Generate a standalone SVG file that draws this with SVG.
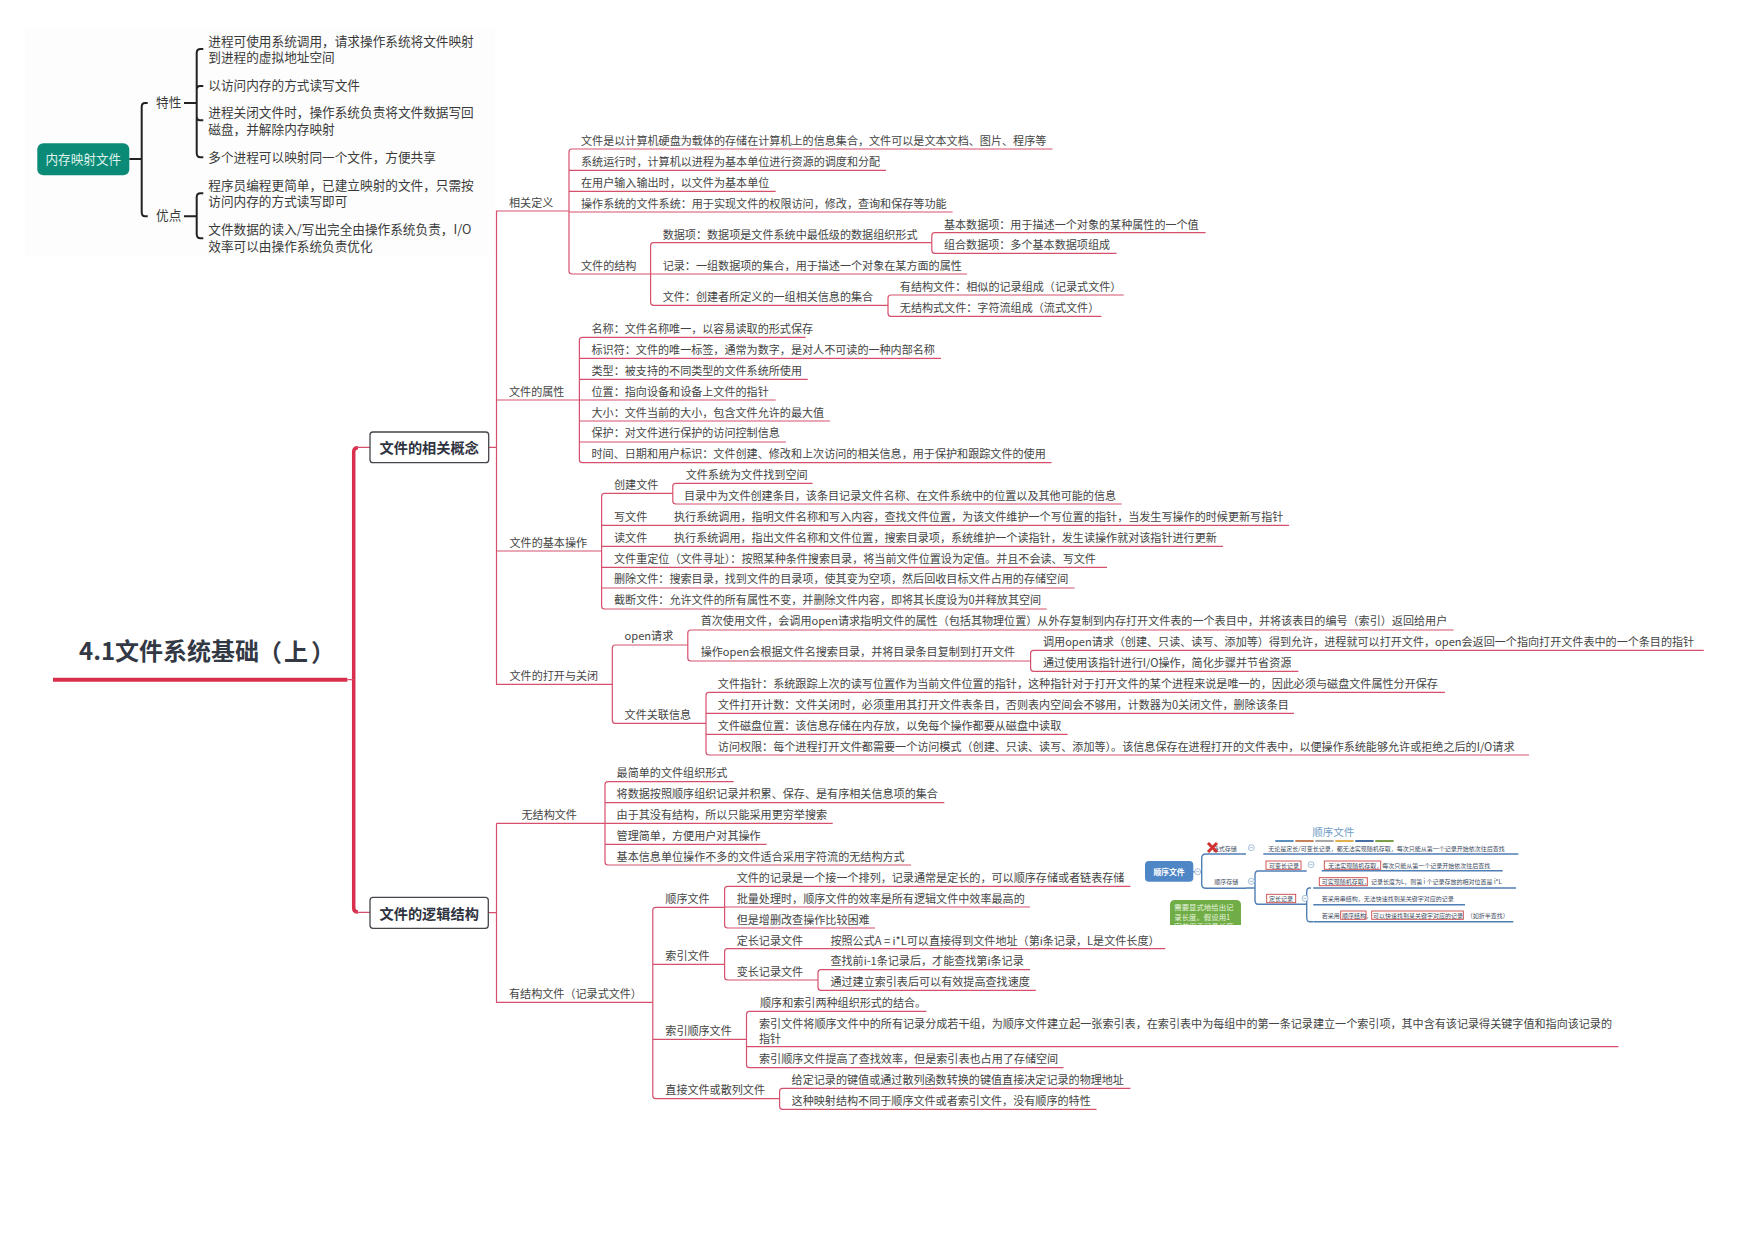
<svg xmlns="http://www.w3.org/2000/svg" width="1755" height="1240" viewBox="0 0 1755 1240">
<style>
text{font-family:"Noto Sans CJK SC","Liberation Sans",sans-serif;dominant-baseline:central;fill:#444}
.t{font-size:11.09px}
.m{font-size:12.65px;fill:#3a3a3a}
.b{font-size:14.2px;font-weight:700;fill:#2f3340}
.s{font-size:6px;fill:#3d4a5e}
.c{fill:none;stroke:#d5506c;stroke-width:1.2}
.k{fill:none;stroke:#222;stroke-width:2}
.u{fill:none;stroke:#4f7fb5;stroke-width:1.4}
.r{fill:none;stroke:#c44;stroke-width:.9}
.o{fill:#fff;stroke:#8fb0cf;stroke-width:.8}
.box{fill:#fff;stroke:#44464c;stroke-width:1.3}
</style>
<defs><clipPath id="noteclip"><rect x="1170" y="900" width="71" height="25"/></clipPath></defs>
<rect width="1755" height="1240" fill="#fff"/>
<rect x="25" y="28" width="470" height="228" fill="#fdfdfd"/>

<g id="connectors">
<path d="M129.3 159H141.7M147.7 103H145Q141.7 103 141.7 107V212Q141.7 216.3 145 216.3H147.7M184 103H196.7M184 216.3H196.7" class="k"/>
<path d="M203.3 49H200.5Q196.7 49 196.7 53V153Q196.7 157.3 200.5 157.3H203.3M203.3 86H200Q196.7 86 196.7 90M196.7 116Q196.7 120.3 200 120.3H203.3M203.3 193.3H200.5Q196.7 193.3 196.7 197V234Q196.7 238.3 200.5 238.3H203.3" class="k"/>
<path d="M53 679.7H347.3" style="fill:none;stroke:#d8304c;stroke-width:4"/>
<path d="M358 447.8Q353.7 447.8 353.7 452V908Q353.7 912 358 912" style="fill:none;stroke:#d8304c;stroke-width:3.5"/>
<path d="M347.3 679.7H353.7M356 447.3H370M356 912.3H370M488.7 447.3H496.5M488.3 912.7H496.5" class="c"/>
<path d="M568.7 211H496.5V684.3H612.3M496.5 400H579.4M496.5 551H601.6" class="c"/>
<path d="M496.5 823.3H605M652.8 1002.3H496.5V823.3" class="c"/>
<path d="M1052.5 149H572Q569 149 569 152V271Q569 274 572 274H650.6M569 170.3H886M569 191.3H775.7M569 212H952.6" class="c"/>
<path d="M931.8 242.7H653.6Q650.6 242.7 650.6 245.7V302.3Q650.6 305.3 653.6 305.3H888M650.6 274H967" class="c"/>
<path d="M1205.6 232.7H934.8Q931.8 232.7 931.8 235.7V250.3Q931.8 253.3 934.8 253.3H1116.5" class="c"/>
<path d="M1123.7 295H891Q888 295 888 298V313.3Q888 316.3 891 316.3H1101.4" class="c"/>
<path d="M805.7 337.3H582.4Q579.4 337.3 579.4 340.3V459.7Q579.4 462.7 582.4 462.7H1051.5M579.4 358.3H941M579.4 379.3H807.7M579.4 400H775.7M579.4 421H830M579.4 442H785.9" class="c"/>
<path d="M672.8 493.3H604.6Q601.6 493.3 601.6 496.3V606Q601.6 609 604.6 609H1046.7M601.6 525.3H1289M601.6 546.3H1223M601.6 567.3H1107M601.6 588H1074.5" class="c"/>
<path d="M812.6 483.3H675.8Q672.8 483.3 672.8 486.3V501Q672.8 504 675.8 504H1121.7" class="c"/>
<path d="M687.8 645H615.3Q612.3 645 612.3 648V720.3Q612.3 723.3 615.3 723.3H706" class="c"/>
<path d="M1453.6 630H690.8Q687.8 630 687.8 633V658Q687.8 661 690.8 661H1030.6" class="c"/>
<path d="M1703.8 650.3H1033.6Q1030.6 650.3 1030.6 653.3V668.3Q1030.6 671.3 1033.6 671.3H1298.4" class="c"/>
<path d="M1445 692.3H709Q706 692.3 706 695.3V752Q706 755 709 755H1529M706 713.3H1294M706 734.3H1067.6" class="c"/>
<path d="M733.6 781.7H608Q605 781.7 605 784.7V862Q605 865 608 865H911M605 802.7H944.3M605 823.3H832.7M605 844.3H766.6" class="c"/>
<path d="M724.6 907.3H655.8Q652.8 907.3 652.8 910.3V1095.7Q652.8 1098.7 655.8 1098.7H779.6M652.8 964.3H724.6M652.8 1039.3H746.5" class="c"/>
<path d="M1130.4 886.3H727.6Q724.6 886.3 724.6 889.3V925Q724.6 928 727.6 928H875M724.6 907H1030" class="c"/>
<path d="M1165.3 948.7H727.6Q724.6 948.7 724.6 951.7V977Q724.6 980 727.6 980H818" class="c"/>
<path d="M1030 969.7H821Q818 969.7 818 972.7V987.3Q818 990.3 821 990.3H1035.8" class="c"/>
<path d="M926.4 1011.3H749.5Q746.5 1011.3 746.5 1014.3V1064.7Q746.5 1067.7 749.5 1067.7H1063.5M746.5 1046.7H1618.5" class="c"/>
<path d="M1130.4 1088.3H782.6Q779.6 1088.3 779.6 1091.3V1106.3Q779.6 1109.3 782.6 1109.3H1096.5" class="c"/>
<path d="M1246 854H1206Q1201.7 854 1201.7 858V884Q1201.7 888.3 1206 888.3H1246M1193.3 871.7H1201.7M1263.3 854H1518.3" class="u"/>
<path d="M1260 871H1258Q1255 871 1255 875V900Q1255 904.3 1258 904.3H1260M1246 888H1255M1260 871H1306.7M1260 904.3H1300" class="u"/>
<path d="M1321.7 870.7H1502.7M1313.3 888H1516M1313.3 904.7H1465M1313.3 921.7H1513.3M1311 888H1309.5Q1306.7 888 1306.7 892V917Q1306.7 921.7 1309.5 921.7H1313M1300 904.3H1306.7" class="u"/>
</g>

<g id="root"><text x="79" y="649.5" style="font-size:24px;font-weight:700;fill:#333845">4.1文件系统基础<tspan x="258">（</tspan><tspan x="284">上</tspan><tspan x="311">）</tspan></text></g>
<g id="mmap"><rect x="37.3" y="143.3" width="92" height="32" rx="6" fill="#0b8a77"/><text x="83.3" y="158" text-anchor="middle" style="font-size:12.6px;fill:#dff3ec">内存映射文件</text></g>
<g id="m1"><text class="m" x="156" y="101.3">特性</text></g>
<g id="m2"><text class="m" x="156" y="214.8">优点</text></g>
<g id="m11"><text class="m" x="208.3" y="40">进程可使用系统调用，请求操作系统将文件映射</text><text class="m" x="208.3" y="56.4">到进程的虚拟地址空间</text></g>
<g id="m12"><text class="m" x="208.3" y="84.7">以访问内存的方式读写文件</text></g>
<g id="m13"><text class="m" x="208.3" y="111.4">进程关闭文件时，操作系统负责将文件数据写回</text><text class="m" x="208.3" y="128">磁盘，并解除内存映射</text></g>
<g id="m14"><text class="m" x="208.3" y="156">多个进程可以映射同一个文件，方便共享</text></g>
<g id="m21"><text class="m" x="208.3" y="184">程序员编程更简单，已建立映射的文件，只需按</text><text class="m" x="208.3" y="200.4">访问内存的方式读写即可</text></g>
<g id="m22"><text class="m" x="208.3" y="228.7">文件数据的读入/写出完全由操作系统负责，I/O</text><text class="m" x="208.3" y="245.4">效率可以由操作系统负责优化</text></g>

<g id="a"><rect class="box" x="370" y="432" width="118.7" height="30.7" rx="3"/><text class="b" x="379.5" y="447.3">文件的相关概念</text></g>
<g id="b"><rect class="box" x="370" y="897.3" width="118.3" height="31" rx="3"/><text class="b" x="379.5" y="912.7">文件的逻辑结构</text></g>

<g id="a1"><text class="t" x="509" y="201.5">相关定义</text></g>
<g id="a11"><text class="t" x="581" y="140">文件是以计算机硬盘为载体的存储在计算机上的信息集合，文件可以是文本文档、图片、程序等</text></g>
<g id="a12"><text class="t" x="581" y="161">系统运行时，计算机以进程为基本单位进行资源的调度和分配</text></g>
<g id="a13"><text class="t" x="581" y="181.7">在用户输入输出时，以文件为基本单位</text></g>
<g id="a14"><text class="t" x="581" y="202.7">操作系统的文件系统：用于实现文件的权限访问，修改，查询和保存等功能</text></g>
<g id="a15"><text class="t" x="581" y="264.7">文件的结构</text></g>
<g id="a151"><text class="t" x="662.7" y="233.7">数据项：数据项是文件系统中最低级的数据组织形式</text></g>
<g id="a1511"><text class="t" x="943.9" y="223.7">基本数据项：用于描述一个对象的某种属性的一个值</text></g>
<g id="a1512"><text class="t" x="943.9" y="244.3">组合数据项：多个基本数据项组成</text></g>
<g id="a152"><text class="t" x="662.7" y="265">记录：一组数据项的集合，用于描述一个对象在某方面的属性</text></g>
<g id="a153"><text class="t" x="662.7" y="296.3">文件：创建者所定义的一组相关信息的集合</text></g>
<g id="a1531"><text class="t" x="899.8" y="286">有结构文件：相似的记录组成（记录式文件）</text></g>
<g id="a1532"><text class="t" x="899.8" y="307.3">无结构式文件：字符流组成（流式文件）</text></g>

<g id="a2"><text class="t" x="509" y="391">文件的属性</text></g>
<g id="a21"><text class="t" x="591.5" y="328">名称：文件名称唯一，以容易读取的形式保存</text></g>
<g id="a22"><text class="t" x="591.5" y="348.7">标识符：文件的唯一标签，通常为数字，是对人不可读的一种内部名称</text></g>
<g id="a23"><text class="t" x="591.5" y="369.7">类型：被支持的不同类型的文件系统所使用</text></g>
<g id="a24"><text class="t" x="591.5" y="390.7">位置：指向设备和设备上文件的指针</text></g>
<g id="a25"><text class="t" x="591.5" y="411.7">大小：文件当前的大小，包含文件允许的最大值</text></g>
<g id="a26"><text class="t" x="591.5" y="432.3">保护：对文件进行保护的访问控制信息</text></g>
<g id="a27"><text class="t" x="591.5" y="453.3">时间、日期和用户标识：文件创建、修改和上次访问的相关信息，用于保护和跟踪文件的使用</text></g>

<g id="a3"><text class="t" x="509.5" y="541.7">文件的基本操作</text></g>
<g id="a31"><text class="t" x="614" y="484">创建文件</text></g>
<g id="a311"><text class="t" x="685.7" y="474">文件系统为文件找到空间</text></g>
<g id="a312"><text class="t" x="684" y="495">目录中为文件创建条目，该条目记录文件名称、在文件系统中的位置以及其他可能的信息</text></g>
<g id="a32"><text class="t" x="614" y="515.7">写文件</text><text class="t" x="674" y="515.7">执行系统调用，指明文件名称和写入内容，查找文件位置，为该文件维护一个写位置的指针，当发生写操作的时候更新写指针</text></g>
<g id="a33"><text class="t" x="614" y="536.7">读文件</text><text class="t" x="674" y="536.7">执行系统调用，指出文件名称和文件位置，搜索目录项，系统维护一个读指针，发生读操作就对该指针进行更新</text></g>
<g id="a34"><text class="t" x="614" y="557.7">文件重定位（文件寻址）：按照某种条件搜索目录，将当前文件位置设为定值。并且不会读、写文件</text></g>
<g id="a35"><text class="t" x="614" y="578.3">删除文件：搜索目录，找到文件的目录项，使其变为空项，然后回收目标文件占用的存储空间</text></g>
<g id="a36"><text class="t" x="614" y="599.3">截断文件：允许文件的所有属性不变，并删除文件内容，即将其长度设为0并释放其空间</text></g>

<g id="a4"><text class="t" x="509.5" y="675">文件的打开与关闭</text></g>
<g id="a41"><text class="t" x="624.6" y="635">open请求</text></g>
<g id="a411"><text class="t" x="700.7" y="620">首次使用文件，会调用open请求指明文件的属性（包括其物理位置）从外存复制到内存打开文件表的一个表目中，并将该表目的编号（索引）返回给用户</text></g>
<g id="a412"><text class="t" x="700.7" y="650.7">操作open会根据文件名搜索目录，并将目录条目复制到打开文件</text></g>
<g id="a4121"><text class="t" x="1043" y="641">调用open请求（创建、只读、读写、添加等）得到允许，进程就可以打开文件，open会返回一个指向打开文件表中的一个条目的指针</text></g>
<g id="a4122"><text class="t" x="1043" y="662">通过使用该指针进行I/O操作，简化步骤并节省资源</text></g>
<g id="a42"><text class="t" x="624.6" y="714">文件关联信息</text></g>
<g id="a421"><text class="t" x="717.8" y="683.3">文件指针：系统跟踪上次的读写位置作为当前文件位置的指针，这种指针对于打开文件的某个进程来说是唯一的，因此必须与磁盘文件属性分开保存</text></g>
<g id="a422"><text class="t" x="717.8" y="704.3">文件打开计数：文件关闭时，必须重用其打开文件表条目，否则表内空间会不够用，计数器为0关闭文件，删除该条目</text></g>
<g id="a423"><text class="t" x="717.8" y="725">文件磁盘位置：该信息存储在内存放，以免每个操作都要从磁盘中读取</text></g>
<g id="a424"><text class="t" x="717.8" y="745.7">访问权限：每个进程打开文件都需要一个访问模式（创建、只读、读写、添加等）。该信息保存在进程打开的文件表中，以便操作系统能够允许或拒绝之后的I/O请求</text></g>

<g id="b1"><text class="t" x="521.5" y="814">无结构文件</text></g>
<g id="b11"><text class="t" x="616.6" y="772.3">最简单的文件组织形式</text></g>
<g id="b12"><text class="t" x="616.6" y="793">将数据按照顺序组织记录并积累、保存、是有序相关信息项的集合</text></g>
<g id="b13"><text class="t" x="616.6" y="814">由于其没有结构，所以只能采用更穷举搜索</text></g>
<g id="b14"><text class="t" x="616.6" y="835">管理简单，方便用户对其操作</text></g>
<g id="b15"><text class="t" x="616.6" y="856">基本信息单位操作不多的文件适合采用字符流的无结构方式</text></g>

<g id="b2"><text class="t" x="509" y="993.3">有结构文件（记录式文件）</text></g>
<g id="b21"><text class="t" x="665.3" y="897.7">顺序文件</text></g>
<g id="b211"><text class="t" x="736.7" y="876.7">文件的记录是一个接一个排列，记录通常是定长的，可以顺序存储或者链表存储</text></g>
<g id="b212"><text class="t" x="736.7" y="897.7">批量处理时，顺序文件的效率是所有逻辑文件中效率最高的</text></g>
<g id="b213"><text class="t" x="736.7" y="918.7">但是增删改查操作比较困难</text></g>
<g id="b22"><text class="t" x="665.3" y="954.7">索引文件</text></g>
<g id="b221"><text class="t" x="736.7" y="939.7">定长记录文件</text><text class="t" x="830.4" y="939.7">按照公式A = i*L可以直接得到文件地址（第i条记录，L是文件长度）</text></g>
<g id="b222"><text class="t" x="736.7" y="970.7">变长记录文件</text></g>
<g id="b2221"><text class="t" x="830.4" y="960.3">查找前i-1条记录后，才能查找第i条记录</text></g>
<g id="b2222"><text class="t" x="830.4" y="981">通过建立索引表后可以有效提高查找速度</text></g>
<g id="b23"><text class="t" x="665.3" y="1030">索引顺序文件</text></g>
<g id="b231"><text class="t" x="760" y="1002.3">顺序和索引两种组织形式的结合。</text></g>
<g id="b232"><text class="t" x="759" y="1023.3">索引文件将顺序文件中的所有记录分成若干组，为顺序文件建立起一张索引表，在索引表中为每组中的第一条记录建立一个索引项，其中含有该记录得关键字值和指向该记录的</text><text class="t" x="759" y="1037.7">指针</text></g>
<g id="b233"><text class="t" x="759" y="1058.3">索引顺序文件提高了查找效率，但是索引表也占用了存储空间</text></g>
<g id="b24"><text class="t" x="665.3" y="1089.3">直接文件或散列文件</text></g>
<g id="b241"><text class="t" x="791.6" y="1079.3">给定记录的键值或通过散列函数转换的键值直接决定记录的物理地址</text></g>
<g id="b242"><text class="t" x="791.6" y="1100">这种映射结构不同于顺序文件或者索引文件，没有顺序的特性</text></g>

<g id="seq-title"><text x="1312.3" y="831" style="font-size:10.5px;fill:#6f9cc4">顺序文件</text>
<rect x="1275.3" y="840" width="18.3" height="2" fill="#5b8fbf"/><rect x="1295.3" y="840" width="18.3" height="2" fill="#c8835a"/><rect x="1315.3" y="840" width="18.3" height="2" fill="#a6a6a6"/><rect x="1335.3" y="840" width="18.3" height="2" fill="#e0b050"/><rect x="1355.3" y="840" width="18.3" height="2" fill="#4a6fa5"/><rect x="1375.3" y="840" width="18.3" height="2" fill="#7aa04a"/></g>
<g id="seq-root"><rect x="1145" y="861" width="48.3" height="20.7" rx="4" fill="#4f86c6"/><text x="1169" y="871.5" text-anchor="middle" style="font-size:7.8px;font-weight:700;fill:#fff">顺序文件</text><circle class="o" cx="1197.7" cy="871.7" r="3"/><path class="o" d="M1196 871.7h3.4"/></g>
<g id="seq-note"><path d="M1170 925V905Q1170 900 1175 900H1236Q1241 900 1241 905V925Z" fill="#70ad47"/><g clip-path="url(#noteclip)"><text x="1174.3" y="906.7" style="font-size:7.4px;fill:#e8f4df">需要显式地给出记</text><text x="1174.3" y="916" style="font-size:7.4px;fill:#e8f4df">录长度。假设用1</text><text x="1174.3" y="925" style="font-size:7.4px;fill:#e8f4df">字节用于记录长度</text></g></g>
<g id="seq-1"><text class="s" x="1212.7" y="848.3">链式存储</text><path d="M1208 843L1217 852M1217 843L1208 852" style="stroke:#cf3030;stroke-width:3;fill:none"/><circle class="o" cx="1251.3" cy="847.7" r="3"/><path class="o" d="M1249.6 847.7h3.4"/></g>
<g id="seq-11"><text class="s" x="1268.3" y="848.3">无论是定长/可变长记录，都无法实现随机存取，每次只能从第一个记录开始依次往后查找</text></g>
<g id="seq-2"><text class="s" x="1214.3" y="881.7">顺序存储</text><circle class="o" cx="1251.3" cy="881.3" r="3"/><path class="o" d="M1249.6 881.3h3.4"/></g>
<g id="seq-21"><rect class="r" x="1266" y="861" width="35" height="8.3"/><text class="s" x="1269" y="865">可变长记录</text><circle class="o" cx="1311" cy="864.7" r="3"/><path class="o" d="M1309.3 864.7h3.4"/></g>
<g id="seq-211"><rect class="r" x="1324.3" y="861" width="56.4" height="8.3"/><text class="s" x="1328.3" y="865">无法实现随机存取，每次只能从第一个记录开始依次往后查找</text></g>
<g id="seq-22"><rect class="r" x="1266.7" y="894.3" width="29" height="8.4"/><text class="s" x="1269" y="898.7">定长记录</text><circle class="o" cx="1305" cy="898.3" r="3"/><path class="o" d="M1303.3 898.3h3.4"/></g>
<g id="seq-221"><rect class="r" x="1319.3" y="877.7" width="48" height="8"/><text class="s" x="1321.7" y="881.7">可实现随机存取，</text><text class="s" x="1371" y="881.7">记录长度为L，则第 i 个记录存放的相对位置是 i*L</text></g>
<g id="seq-222"><text class="s" x="1321.7" y="898.7">若采用串结构，无法快速找到某关键字对应的记录</text></g>
<g id="seq-223"><text class="s" x="1321.7" y="915.3">若采用</text><rect class="r" x="1340.7" y="911" width="25.3" height="8.3"/><text class="s" x="1342" y="915.3">顺序结构，</text><rect class="r" x="1371.7" y="911" width="91.6" height="8.3"/><text class="s" x="1373" y="915.3">可以快速找到某关键字对应的记录</text><text class="s" x="1466.7" y="915.3">（如折半查找）</text></g>
</svg>
